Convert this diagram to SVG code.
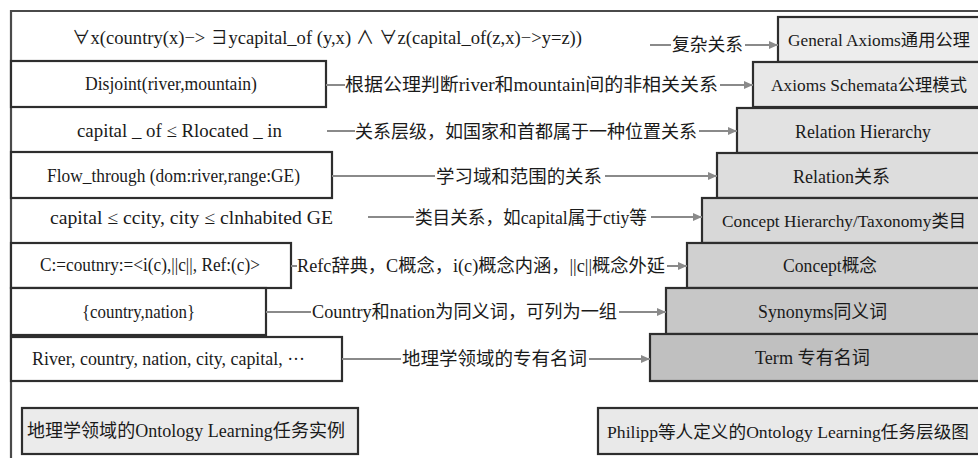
<svg xmlns="http://www.w3.org/2000/svg" width="978" height="458" viewBox="0 0 978 458">
<defs>
<style>
.t{font-family:"Liberation Serif","Noto Sans CJK SC",serif;fill:#1a1a1a;}
.l{font-size:18.5px;text-anchor:middle;}
.m{font-size:18px;text-anchor:middle;}
.r{font-size:18.5px;text-anchor:middle;}
.s{font-size:17px;}
.box{fill:#fff;stroke:#2e2e2e;stroke-width:2.2;}
.rb{stroke:#2e2e2e;stroke-width:2.2;}
.c{stroke:#8a8a8a;stroke-width:2;fill:none;}
.a{marker-end:url(#arr);}
</style>
<marker id="arr" markerUnits="userSpaceOnUse" markerWidth="9" markerHeight="8" refX="9" refY="4" orient="auto">
<path d="M0,0 L9,4 L0,8 z" fill="#8a8a8a"/>
</marker>
</defs>
<rect width="978" height="458" fill="#fff"/>
<g id="frame">
<path d="M11,458 V11 H978" fill="none" stroke="#4a4a4a" stroke-width="2.2"/>
</g>
<g id="right-nodes">
<g id="r1"><rect class="rb" x="778" y="17" width="202" height="45" fill="#ededed"/><text class="t r s" x="879" y="46" textLength="182" lengthAdjust="spacingAndGlyphs">General Axioms通用公理</text></g>
<g id="r2"><rect class="rb" x="753" y="62" width="227" height="45" fill="#e8e8e8"/><text class="t r s" x="869" y="91" textLength="196" lengthAdjust="spacingAndGlyphs">Axioms Schemata公理模式</text></g>
<g id="r3"><rect class="rb" x="737" y="108" width="243" height="45" fill="#e2e2e2"/><text class="t r" x="863" y="138" textLength="136" lengthAdjust="spacingAndGlyphs">Relation Hierarchy</text></g>
<g id="r4"><rect class="rb" x="717" y="153" width="263" height="45" fill="#dddddd"/><text class="t r" x="841.5" y="183" textLength="97" lengthAdjust="spacingAndGlyphs">Relation关系</text></g>
<g id="r5"><rect class="rb" x="702" y="198" width="278" height="45" fill="#d8d8d8"/><text class="t r s" x="844" y="227" textLength="244" lengthAdjust="spacingAndGlyphs">Concept Hierarchy/Taxonomy类目</text></g>
<g id="r6"><rect class="rb" x="687" y="243" width="293" height="45" fill="#d0d0d0"/><text class="t r" x="830" y="272" textLength="94" lengthAdjust="spacingAndGlyphs">Concept概念</text></g>
<g id="r7"><rect class="rb" x="666" y="288" width="314" height="46" fill="#c7c7c7"/><text class="t r" x="822.5" y="318" textLength="129" lengthAdjust="spacingAndGlyphs">Synonyms同义词</text></g>
<g id="r8"><rect class="rb" x="650" y="334" width="330" height="47" fill="#c0c0c0"/><text class="t r" x="812.5" y="364" textLength="115" lengthAdjust="spacingAndGlyphs">Term 专有名词</text></g>
<g id="r-title"><rect class="rb" x="598" y="408" width="382" height="46" fill="#e9e9e9"/><text class="t r s" x="788" y="438" textLength="362" lengthAdjust="spacingAndGlyphs">Philipp等人定义的Ontology Learning任务层级图</text></g>
</g>
<g id="left-nodes">
<g id="l1"><text class="t l" x="327" y="44" textLength="510" lengthAdjust="spacingAndGlyphs">∀x(country(x)−&gt; ∃ycapital_of (y,x) ∧ ∀z(capital_of(z,x)−&gt;y=z))</text></g>
<g id="l2"><rect class="box" x="11" y="61" width="315" height="46"/><text class="t l" x="171" y="90" textLength="172" lengthAdjust="spacingAndGlyphs">Disjoint(river,mountain)</text></g>
<g id="l3"><text class="t l" x="179.5" y="137" textLength="205" lengthAdjust="spacingAndGlyphs">capital _ of ≤ Rlocated  _ in</text></g>
<g id="l4"><rect class="box" x="11" y="152" width="321" height="46"/><text class="t l" x="173.5" y="182" textLength="253" lengthAdjust="spacingAndGlyphs">Flow_through (dom:river,range:GE)</text></g>
<g id="l5"><text class="t l" x="191.5" y="224" textLength="283" lengthAdjust="spacingAndGlyphs">capital ≤ ccity, city ≤ clnhabited  GE</text></g>
<g id="l6"><rect class="box" x="11" y="243" width="280" height="45"/><text class="t l" x="150" y="271" textLength="220" lengthAdjust="spacingAndGlyphs">C:=coutnry:=&lt;i(c),||c||, Ref:(c)&gt;</text></g>
<g id="l7"><rect class="box" x="11" y="288" width="255" height="47"/><text class="t l" x="138.5" y="318" textLength="113" lengthAdjust="spacingAndGlyphs">{country,nation}</text></g>
<g id="l8"><rect class="box" x="11" y="337" width="331" height="44"/><text class="t l" x="168.5" y="365" textLength="273" lengthAdjust="spacingAndGlyphs">River, country, nation, city, capital, ···</text></g>
<g id="l-title"><rect class="rb" x="22" y="408" width="336" height="46" fill="#ebebeb"/><text class="t r" x="186" y="437" textLength="318" lengthAdjust="spacingAndGlyphs">地理学领域的Ontology Learning任务实例</text></g>
</g>
<g id="connectors">
<path class="c" d="M650,45 H671"/>
<path class="c a" d="M745,45 H778"/>
<path class="c" d="M326,85 H345"/>
<path class="c a" d="M720,85 H753"/>
<path class="c" d="M327,131 H355"/>
<path class="c a" d="M699,131 H737"/>
<path class="c" d="M332,176 H435"/>
<path class="c a" d="M605,176 H717"/>
<path class="c" d="M368,217 H414"/>
<path class="c a" d="M651,217 H702"/>
<path class="c" d="M291,266 H297"/>
<path class="c a" d="M667,266 H687"/>
<path class="c" d="M266,312 H311"/>
<path class="c a" d="M619,312 H666"/>
<path class="c" d="M342,359 H401"/>
<path class="c a" d="M589,359 H650"/>
</g>
<g id="labels">
<text class="t m" x="707.5" y="51" textLength="71" lengthAdjust="spacingAndGlyphs">复杂关系</text>
<text class="t m" x="531.5" y="91" textLength="373" lengthAdjust="spacingAndGlyphs">根据公理判断river和mountain间的非相关关系</text>
<text class="t m" x="526" y="138" textLength="342" lengthAdjust="spacingAndGlyphs">关系层级，如国家和首都属于一种位置关系</text>
<text class="t m" x="519" y="183" textLength="166" lengthAdjust="spacingAndGlyphs">学习域和范围的关系</text>
<text class="t m" x="531" y="224" textLength="232" lengthAdjust="spacingAndGlyphs">类目关系，如capital属于ctiy等</text>
<text class="t m" x="481" y="272" textLength="368" lengthAdjust="spacingAndGlyphs">Refc辞典，C概念，i(c)概念内涵，||c||概念外延</text>
<text class="t m" x="464.5" y="318" textLength="305" lengthAdjust="spacingAndGlyphs">Country和nation为同义词，可列为一组</text>
<text class="t m" x="494.5" y="365" textLength="185" lengthAdjust="spacingAndGlyphs">地理学领域的专有名词</text>
</g>
</svg>
